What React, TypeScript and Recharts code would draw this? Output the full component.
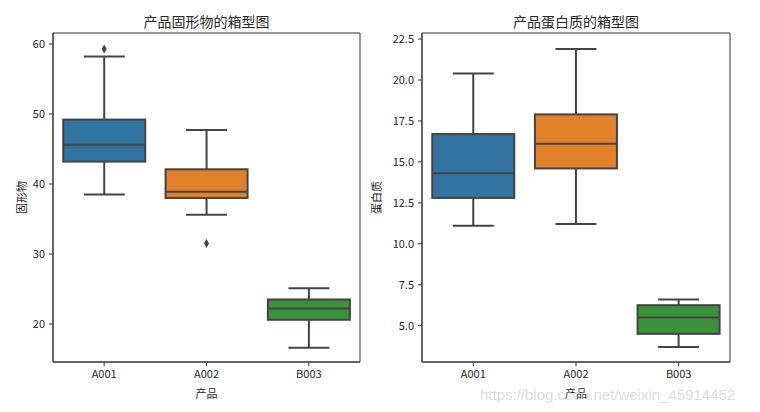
import { ComposedChart, Bar, Line, XAxis, YAxis, Label, CartesianGrid } from 'recharts';

const products = ['A001', 'A002', 'B003'];
const palette = ['#3274a1', '#e1812c', '#3a923a'];

// 固形物
const solidsLow = [38.5, 35.6, 16.6];
const solidsQ1 = [43.2, 38.0, 20.6];
const solidsMedian = [45.6, 38.9, 22.2];
const solidsQ3 = [49.2, 42.1, 23.5];
const solidsHigh = [58.2, 47.7, 25.1];
const solidsOutliers = [59.3, 31.5, null];
const solidsTicks = [20, 30, 40, 50, 60];

// 蛋白质
const proteinLow = [11.1, 11.2, 3.7];
const proteinQ1 = [12.8, 14.6, 4.5];
const proteinMedian = [14.3, 16.1, 5.5];
const proteinQ3 = [16.7, 17.9, 6.25];
const proteinHigh = [20.4, 21.9, 6.6];
const proteinOutliers = [null, null, null];
const proteinTicks = [5, 7.5, 10, 12.5, 15, 17.5, 20, 22.5];

const FONT = '"Noto Sans CJK SC", "DejaVu Sans", sans-serif';
const INK = '#444';
const AXIS = '#333';

type Row = {
  name: string;
  low: number;
  q1: number;
  median: number;
  q3: number;
  high: number;
  outlier: number | null;
};

function buildRows(
  low: number[],
  q1: number[],
  median: number[],
  q3: number[],
  high: number[],
  outliers: (number | null)[]
): Row[] {
  return products.map((name, i) => ({
    name,
    low: low[i],
    q1: q1[i],
    median: median[i],
    q3: q3[i],
    high: high[i],
    outlier: outliers[i],
  }));
}

const solidsRows = buildRows(solidsLow, solidsQ1, solidsMedian, solidsQ3, solidsHigh, solidsOutliers);
const proteinRows = buildRows(proteinLow, proteinQ1, proteinMedian, proteinQ3, proteinHigh, proteinOutliers);

// box drawn from the q1..q3 bar; whiskers use the same pixels-per-unit as the bar
function BoxShape(props: any) {
  const { x, y, width, height, payload, index } = props;
  const { low, q1, median, q3, high } = payload as Row;
  const top = Math.min(y, y + height);
  const h = Math.abs(height);
  const ppu = h / (q3 - q1);
  const py = (v: number) => top + (q3 - v) * ppu;
  const cx = x + width / 2;
  const cap = width / 4;
  const line = { stroke: INK, strokeWidth: 2 };
  return (
    <g>
      <line x1={cx} x2={cx} y1={py(high)} y2={top} {...line} />
      <line x1={cx} x2={cx} y1={top + h} y2={py(low)} {...line} />
      <line x1={cx - cap} x2={cx + cap} y1={py(high)} y2={py(high)} {...line} />
      <line x1={cx - cap} x2={cx + cap} y1={py(low)} y2={py(low)} {...line} />
      <rect x={x} y={top} width={width} height={h} fill={palette[index % palette.length]} {...line} />
      <line x1={x} x2={x + width} y1={py(median)} y2={py(median)} {...line} />
    </g>
  );
}

function Diamond(props: any) {
  const { cx, cy, index, payload } = props;
  if (payload == null || payload.outlier == null || cy == null || Number.isNaN(cy)) {
    return <g key={`o-${index}`} />;
  }
  return (
    <path
      key={`o-${index}`}
      d={`M${cx},${cy - 4.5} L${cx + 2.5},${cy} L${cx},${cy + 4.5} L${cx - 2.5},${cy} Z`}
      fill={INK}
    />
  );
}

// frame lines on the plot edges (matplotlib spines)
const frameRows = ({ offset }: any) => [offset.top, offset.top + offset.height];
const frameCols = ({ offset }: any) => [offset.left, offset.left + offset.width];

function BoxChart({
  rows,
  title,
  yLabel,
  domain,
  ticks,
  format,
  left,
  width,
  margin,
  yLabelOffset,
}: {
  rows: Row[];
  title: string;
  yLabel: string;
  domain: [number, number];
  ticks: number[];
  format: (v: number) => string;
  left: number;
  width: number;
  margin: { top: number; right: number; bottom: number; left: number };
  yLabelOffset: number;
}) {
  const height = 412;
  const yAxisWidth = 40;
  const plotLeft = margin.left + yAxisWidth;
  const plotWidth = width - plotLeft - margin.right;
  const tickStyle = { fontSize: 11, fill: '#262626', fontFamily: FONT };
  return (
    <div style={{ position: 'absolute', left, top: 0, width, height }}>
      <div
        style={{
          position: 'absolute',
          left: plotLeft,
          width: plotWidth,
          top: 12,
          height: 18,
          lineHeight: '18px',
          textAlign: 'center',
          fontSize: 14,
          color: '#262626',
          fontFamily: FONT,
        }}
      >
        {title}
      </div>
      <ComposedChart width={width} height={height} data={rows} margin={margin} barCategoryGap="10%">
        <CartesianGrid
          stroke={AXIS}
          strokeWidth={1}
          horizontalCoordinatesGenerator={frameRows}
          verticalCoordinatesGenerator={frameCols}
        />
        <XAxis
          dataKey="name"
          tick={tickStyle}
          tickSize={4}
          tickMargin={4}
          stroke={AXIS}
          tickLine={{ stroke: AXIS }}
          axisLine={{ stroke: AXIS }}
          height={50}
        >
          <Label
            value="产品"
            position="insideBottom"
            offset={14}
            style={{ fontSize: 11, fill: '#262626', fontFamily: FONT }}
          />
        </XAxis>
        <YAxis
          type="number"
          domain={domain}
          ticks={ticks}
          allowDataOverflow
          tickFormatter={format}
          tick={tickStyle}
          tickSize={4}
          tickMargin={4}
          width={yAxisWidth}
          tickLine={{ stroke: AXIS }}
          axisLine={{ stroke: AXIS }}
        >
          <Label
            value={yLabel}
            angle={-90}
            position="insideLeft"
            offset={yLabelOffset}
            style={{ fontSize: 11, fill: '#262626', fontFamily: FONT, textAnchor: 'middle' }}
          />
        </YAxis>
        <Bar dataKey={(d: Row) => [d.q1, d.q3]} shape={BoxShape} isAnimationActive={false} />
        <Line
          dataKey="outlier"
          stroke="none"
          dot={Diamond}
          activeDot={false}
          isAnimationActive={false}
          legendType="none"
        />
      </ComposedChart>
    </div>
  );
}

export default function App() {
  return (
    <div
      style={{
        position: 'absolute',
        left: 0,
        top: 0,
        width: 760,
        height: 412,
        background: '#fff',
        overflow: 'hidden',
      }}
    >
      <BoxChart
        rows={solidsRows}
        title="产品固形物的箱型图"
        yLabel="固形物"
        domain={[14.57, 61.57]}
        ticks={solidsTicks}
        format={(v) => String(v)}
        left={0}
        width={380}
        margin={{ top: 33, right: 20, bottom: 0, left: 13 }}
        yLabelOffset={9}
      />
      <BoxChart
        rows={proteinRows}
        title="产品蛋白质的箱型图"
        yLabel="蛋白质"
        domain={[2.78, 22.87]}
        ticks={proteinTicks}
        format={(v) => v.toFixed(1)}
        left={365}
        width={395}
        margin={{ top: 33, right: 30, bottom: 0, left: 17 }}
        yLabelOffset={-5}
      />
      <div
        style={{
          position: 'absolute',
          left: 480,
          top: 386,
          fontSize: 15,
          fontFamily: '"Liberation Sans", sans-serif',
          color: 'rgba(190, 190, 190, 0.55)',
          whiteSpace: 'nowrap',
        }}
      >
        https://blog.csdn.net/weixin_45914452
      </div>
    </div>
  );
}
